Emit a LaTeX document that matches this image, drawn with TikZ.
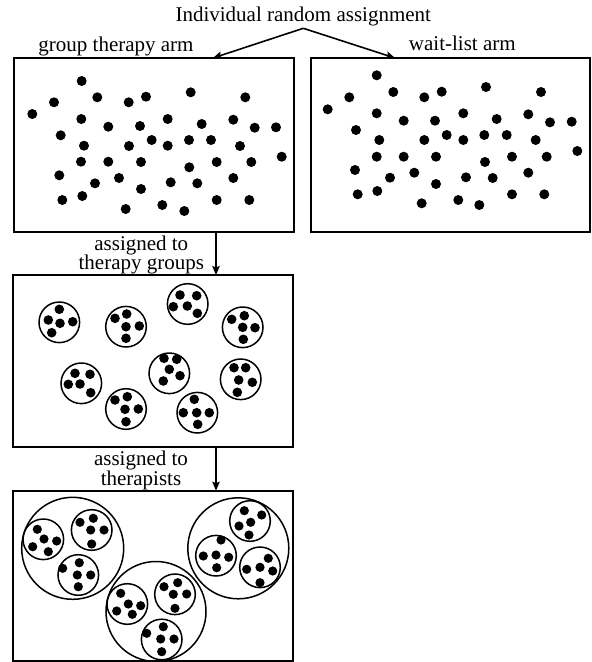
\documentclass[tikz,border=0pt]{standalone}
\usepackage{fontspec}
\setmainfont{Liberation Serif}
\usetikzlibrary{arrows.meta}
\setlength{\lineskiplimit}{-100pt}
\begin{document}
\begin{tikzpicture}[x=1pt,y=-1pt,
  box/.style={draw, line width=2pt, inner sep=0pt, outer sep=0pt},
  lbl/.style={font=\fontsize{21}{19.2}\selectfont, inner sep=0pt, align=center},
  arr/.style={line width=1.6pt, -{Stealth[length=9pt,width=7.5pt,inset=1.5pt]}},
  ring/.style={draw, line width=1.5pt}]
\useasboundingbox (0,0) rectangle (592,662);

% boxes
\node[box, minimum width=280.5pt, minimum height=173.7pt] (b1) at (153.75,144.85) {};
\node[box, minimum width=279pt, minimum height=173.7pt] (b2) at (450.8,144.85) {};
\node[box, minimum width=279.5pt, minimum height=171.5pt] (b3) at (152.75,360.75) {};
\node[box, minimum width=279.5pt, minimum height=170.1pt] (b4) at (152.75,575.75) {};

% texts
\node[lbl, anchor=base] (title) at (303.3,21.7) {Individual random assignment};
\node[lbl, anchor=base] (arm1) at (116,51.7) {group therapy arm};
\node[lbl, anchor=base] (arm2) at (462.3,50.7) {wait-list arm};
\node[lbl] (l1) at (141.3,255.2) {assigned to\\therapy groups};
\node[lbl] (l2) at (141,470.4) {assigned to\\therapists};

% connectors
\coordinate (apex) at (303.3,28.3);
\draw[arr] (apex) -- ([xshift=199.5pt]b1.north west);
\draw[arr] (apex) -- ([xshift=83.7pt]b2.north west);
\coordinate (c1) at (216,0);
\draw[arr] (b1.south -| c1) -- (b3.north -| c1);
\draw[arr] (b3.south -| c1) -- (b4.north -| c1);

% individual dots, group therapy arm
\foreach \x/\y in {81.7/81, 54/102.3, 97.3/97.3, 128.7/102.3, 146/96.7, 190.7/92.3, 245.3/97.3,
  32.3/114, 81.3/119, 108.3/126.7, 140/126, 167.7/119, 201.7/124, 233.3/119.7, 254.7/127.7, 276/127.3,
  60.7/135.3, 84/145.7, 129/146, 151.7/140, 167.7/145.7, 189/140, 211/140, 240/146, 281.7/156.7,
  81/161.7, 108.3/161.7, 141/162, 189.3/167.3, 216.7/162, 251.3/162,
  59.3/175.3, 95/183.3, 119/178, 141/189, 170.7/182.3, 197.3/183.3, 233.3/178,
  62.3/200, 82.3/196, 125.7/209, 162.3/205, 184.3/211, 216.7/200, 249.3/200}
  \fill (\x,\y) circle (5pt);

% individual dots, wait-list arm
\foreach \x/\y in {376.7/75.3, 349.3/97.3, 393.3/92, 424.3/97.3, 441.7/91.7, 486/87, 541/92,
  327.7/109.3, 376.7/113.3, 403.7/120.7, 435/120.7, 463.3/113.3, 496.7/119, 528.3/114.3, 550/122.3, 571.7/121.7,
  356/130, 379.3/140, 424.3/140, 446.7/135, 463.3/140, 484.3/135, 506.7/135, 535.7/140, 577.3/151,
  376.7/156.7, 403.7/156.7, 436/156.7, 485/162, 512/156.7, 546.7/156.7,
  355/170, 390/177.7, 414.3/172.7, 436/184, 466/177.3, 492.7/178, 528.3/172.7,
  357.7/194.3, 377.3/191, 421.7/203.3, 458.3/200, 479.3/205, 512/194.3, 544.3/194.3}
  \fill (\x,\y) circle (5pt);

% therapy groups
\foreach \x/\y in {59.3/322.3, 126/326.7, 187.7/304, 242.7/327.3, 81.3/383.3,
  169.3/373.3, 240.7/379.3, 126/409, 197.3/412.7}
  \draw[ring] (\x,\y) circle (20.3pt);
\foreach \x/\y in {59.3/309.3, 48.3/320, 60/323.3, 72.7/321.7, 51.7/332.7,
  115/318.3, 126.7/314, 126/326.7, 139.3/326, 126/338.3,
  180/295, 196.7/295.7, 173.3/306.7, 187.3/306, 197.3/313.3,
  231.7/319.3, 244.3/315.7, 242.7/327.3, 255/327.7, 243.3/339.3,
  75/373.3, 90/374.3, 68.3/384.3, 80/384, 90.7/392.7,
  164/358.3, 176.7/359.3, 169.3/369.3, 180/375.7, 163.3/381,
  234/367.7, 245.7/367.7, 238.7/380, 252.3/382.3, 237.3/392.3,
  115/400, 127.3/396.7, 125/409.3, 138.3/409, 126/421.7,
  194.3/399.3, 183.3/412.7, 196.7/412.7, 209.3/412.7, 197.7/424.3}
  \fill (\x,\y) circle (4.8pt);

% therapists
\draw[ring] (72.7,548.3) circle (51pt);
\draw[ring] (156,611.5) circle (50pt);
\draw[ring] (238.3,548.3) circle (50.5pt);
\foreach \x/\y in {43.3/539.3, 91.7/530, 78.3/575,
  127.3/604, 175/594.3, 161.7/639.5,
  250/521, 216/555.7, 260/567.3}
  \draw[ring] (\x,\y) circle (20.3pt);
\foreach \x/\y in {37.3/529.3, 32.7/546.7, 44/539, 56.7/541, 48.3/551.7,
  80/522.3, 93.3/518.3, 90.7/530, 104/530, 91.7/544,
  62.7/568.3, 79.3/562.7, 77.3/575, 90.7/575, 78.3/586.7,
  120.7/593.3, 128.3/604, 140.7/605.7, 116.7/611, 132.3/614.3,
  164/586.7, 177.7/582.7, 173.3/594.3, 186.7/594, 175/608.3,
  146.7/633.3, 163.3/626.7, 160.7/639, 174/639, 161.7/651.7,
  244.3/510.7, 261.7/515, 239/526, 250.7/522.3, 249/535,
  221/540, 203.3/556, 216/555, 228.7/557.3, 216.7/567.7,
  268.3/558.3, 246.7/569.3, 260/567.3, 272.7/571, 260/582.7}
  \fill (\x,\y) circle (4.6pt);
\end{tikzpicture}
\end{document}
